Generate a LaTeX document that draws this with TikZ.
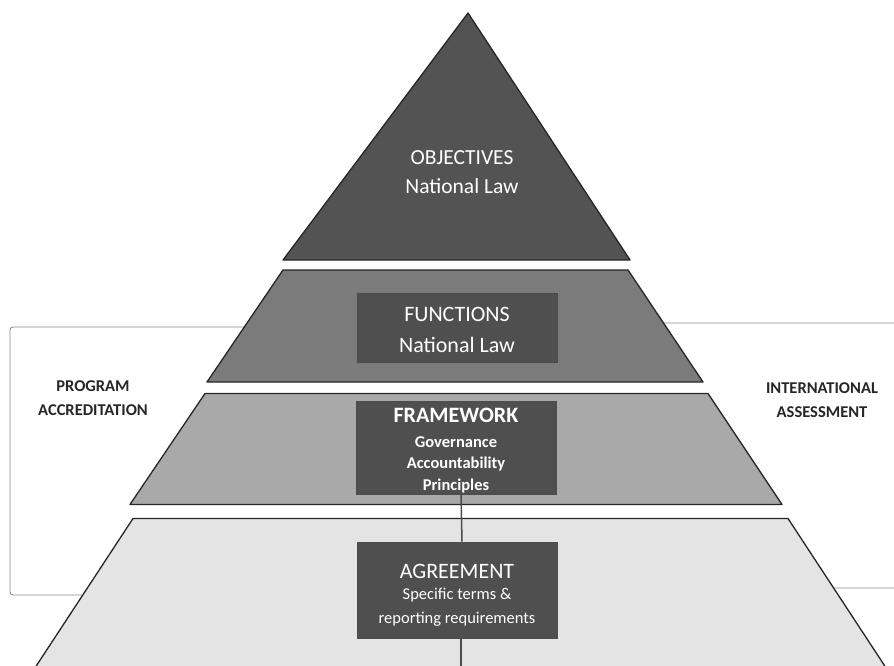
\documentclass[tikz,border=0pt]{standalone}
\usepackage{fontspec}
\setmainfont{Carlito}
\definecolor{tiertop}{HTML}{535353}
\definecolor{tiertwo}{HTML}{7B7B7B}
\definecolor{tierthree}{HTML}{A9A9A9}
\definecolor{tierfour}{HTML}{E4E4E4}
\definecolor{boxgray}{HTML}{4F4F4F}
\begin{document}
\begin{tikzpicture}[x=1pt,y=-1pt,
  tier/.style={draw=black!85, line width=1.3pt, line join=round},
  labelbox/.style={fill=boxgray, draw=black!70, line width=0.6pt,
    minimum width=200pt, inner sep=0pt},
  boxtext/.style={text=white, align=center, inner sep=0pt},
  sidelabel/.style={font=\fontsize{16.5}{24}\selectfont\bfseries, align=center, text=black!85},
  bracket/.style={draw=black!45, line width=0.9pt, rounded corners=3pt},
  link/.style={draw=black!70, line width=1.5pt}]

\useasboundingbox (0,0) rectangle (894,666);
\clip (0,0) rectangle (894,666);

% side brackets, partly hidden behind the pyramid
\draw[bracket] (300,327) -- (10,327) -- (10,595) -- (300,595);
\draw[bracket] (600,323) -- (905,323) -- (905,588) -- (800,588);

% pyramid tiers
\filldraw[tier, fill=tiertop]   (468,13) -- (630,260) -- (283,260) -- cycle;
\filldraw[tier, fill=tiertwo]   (283,270) -- (628,270) -- (703,382) -- (207,382) -- cycle;
\filldraw[tier, fill=tierthree] (205,393.5) -- (708,393.5) -- (782,504.5) -- (130,504.5) -- cycle;
\filldraw[tier, fill=tierfour]  (133,518.5) -- (788,518.5) -- (894,680) -- (27,680) -- cycle;

% apex text
\node[boxtext, font=\fontsize{21.5}{29}\selectfont] (objectives)
  at (462,172) {OBJECTIVES\\National Law};

% dark boxes on the lower tiers
\node[labelbox, minimum height=69pt] (functions) at (457,327.5) {};
\node[labelbox, minimum height=93pt] (framework) at (456,447.5) {};
\node[labelbox, minimum height=96pt] (agreement) at (457,590) {};

% box texts
\node[boxtext, font=\fontsize{22}{31}\selectfont] (functionstext)
  at ([yshift=-2pt]functions.center) {FUNCTIONS\\National Law};
\node[boxtext, font=\fontsize{16.5}{21.5}\selectfont\bfseries] (frameworktext)
  at ([yshift=-3pt]framework.center)
  {{\fontsize{22}{24}\selectfont FRAMEWORK}\\[3pt]Governance\\Accountability\\Principles};
\node[boxtext, font=\fontsize{16.5}{24}\selectfont] (agreementtext)
  at ([yshift=-5.5pt]agreement.center)
  {{\fontsize{22}{24}\selectfont AGREEMENT}\\[-3pt]Specific terms \&\\reporting requirements};

% central connector
\coordinate (bottomend) at (461,670);
\draw[link] ([xshift=5pt]framework.south) -- ([xshift=5pt]agreement.north);
\draw[link] ([xshift=4pt]agreement.south) -- (bottomend);

% side labels
\node[sidelabel] (program) at (93,398) {PROGRAM\\ACCREDITATION};
\node[sidelabel] (intl) at (822,400.5) {INTERNATIONAL\\ASSESSMENT};
\end{tikzpicture}
\end{document}
